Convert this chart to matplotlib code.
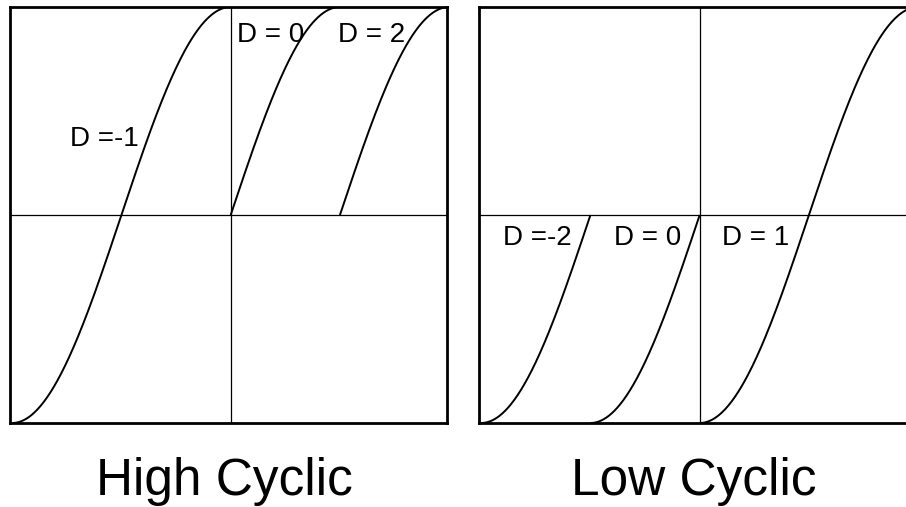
import numpy as np
import matplotlib.pyplot as plt

plt.rcParams['font.family'] = ['Liberation Sans', 'DejaVu Sans']

# each curve is a half-sine arc: (label, x start, x end, phase at start, phase at end)
# phase -1 = trough, 0 = crossing, 1 = crest
high_labels = ['D =-1', 'D = 0', 'D = 2']
high_x0 = [-2.0, 0.0, 1.0]
high_x1 = [0.0, 1.0, 2.0]
high_p0 = [-1.0, 0.0, 0.0]
high_p1 = [1.0, 1.0, 1.0]
high_text_xy = [(-1.47, 0.33), (0.06, 0.83), (0.98, 0.83)]

low_labels = ['D =-2', 'D = 0', 'D = 1']
low_x0 = [-2.0, -1.0, 0.0]
low_x1 = [-1.0, 0.0, 2.0]
low_p0 = [-1.0, -1.0, -1.0]
low_p1 = [0.0, 0.0, 1.0]
low_text_xy = [(-1.80, -0.145), (-0.78, -0.145), (0.20, -0.145)]

titles = ['High Cyclic', 'Low Cyclic']


def arc(x0, x1, p0, p1, n=200):
    x = np.linspace(x0, x1, n)
    phase = np.linspace(np.arcsin(p0), np.arcsin(p1), n)
    return x, np.sin(phase)


fig = plt.figure(figsize=(9.06, 5.07), dpi=100)
ax_w, ax_h = 437 / 906, 416 / 507
ax_b = (507 - 423) / 507
ax1 = fig.add_axes([10 / 906, ax_b, ax_w, ax_h])
ax2 = fig.add_axes([479 / 906, ax_b, ax_w, ax_h])

panels = [
    (ax1, high_labels, high_x0, high_x1, high_p0, high_p1, high_text_xy, titles[0]),
    (ax2, low_labels, low_x0, low_x1, low_p0, low_p1, low_text_xy, titles[1]),
]

for ax, labels, x0s, x1s, p0s, p1s, txy, title in panels:
    ax.set_xlim(-2.02, 1.98)
    ax.set_ylim(-1, 1)
    ax.axhline(0, color='black', lw=0.9)
    ax.axvline(0, color='black', lw=0.9)
    for lab, x0, x1, p0, p1, (tx, ty) in zip(labels, x0s, x1s, p0s, p1s, txy):
        x, y = arc(x0, x1, p0, p1)
        ax.plot(x, y, color='black', lw=1.4, solid_capstyle='butt')
        ax.text(tx, ty, lab, fontsize=20, ha='left', va='baseline')
    ax.set_xticks([])
    ax.set_yticks([])
    for s in ax.spines.values():
        s.set_linewidth(2.0)
    # caption under each panel
    bbox = ax.get_position()
    fig.text((bbox.x0 + bbox.x1) / 2 - 4 / 906, (507 - 495) / 507, title,
             fontsize=37, ha='center', va='baseline')

fig.savefig('out.png', dpi=100)
